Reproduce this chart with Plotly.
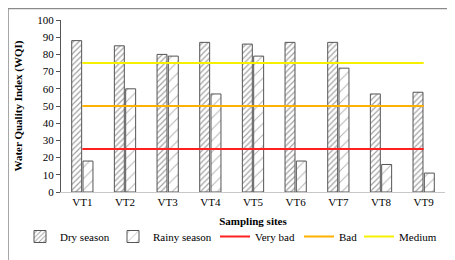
import plotly.graph_objects as go

sites = ["VT1", "VT2", "VT3", "VT4", "VT5", "VT6", "VT7", "VT8", "VT9"]
dry_season = [88, 85, 80, 87, 86, 87, 87, 57, 58]
rainy_season = [18, 60, 79, 57, 79, 18, 72, 16, 11]
very_bad = [25] * 9
bad = [50] * 9
medium = [75] * 9
y_ticks = [0, 10, 20, 30, 40, 50, 60, 70, 80, 90, 100]

FONT = "Liberation Serif"

# page body has an 8px margin: work in figure coordinates
W, H = 447, 252
L, R, T, B = 53, 10, 12, 68
pw, ph = W - L - R, H - T - B

def px_x(x):
    return (x - L) / pw

def px_y(y):
    return (H - B - y) / ph

fig = go.Figure()
fig.add_trace(go.Scatter(x=sites, y=very_bad, name="Very bad", mode="lines", legend="legend3",
                         line=dict(color="#FF2020", width=2)))
fig.add_trace(go.Scatter(x=sites, y=bad, name="Bad", mode="lines", legend="legend4",
                         line=dict(color="#FFB000", width=2)))
fig.add_trace(go.Scatter(x=sites, y=medium, name="Medium", mode="lines", legend="legend5",
                         line=dict(color="#F5F000", width=2)))
fig.add_trace(go.Bar(
    x=sites, y=dry_season, name="Dry season", legend="legend",
    marker=dict(color="white", line=dict(color="#555555", width=1),
                pattern=dict(shape="/", fgcolor="#444444", bgcolor="white", size=4, solidity=0.3)),
))
fig.add_trace(go.Bar(
    x=sites, y=rainy_season, name="Rainy season", legend="legend2",
    marker=dict(color="white", line=dict(color="#555555", width=1),
                pattern=dict(shape="/", fgcolor="#666666", bgcolor="white", size=8, solidity=0.12)),
))

fig.add_shape(type="rect", xref="paper", yref="paper",
              x0=px_x(0), x1=px_x(470), y0=px_y(0.5), y1=px_y(275),
              line=dict(color="#8a8a8a", width=1.5), fillcolor="rgba(0,0,0,0)", layer="below")

def leg(text_x):
    return dict(orientation="h", x=px_x(text_x - 40), xanchor="left", y=px_y(228.5), yanchor="middle",
                font=dict(family=FONT, size=11, color="black"),
                bgcolor="rgba(0,0,0,0)", itemwidth=30)

fig.update_layout(
    width=W, height=H,
    margin=dict(l=L, r=R, t=T, b=B, autoexpand=False),
    paper_bgcolor="white", plot_bgcolor="white",
    font=dict(family=FONT, size=11, color="black"),
    barmode="group", bargap=0.47, bargroupgap=0.12,
    showlegend=True,
    legend=leg(52), legend2=leg(145), legend3=leg(247), legend4=leg(331), legend5=leg(391),
    xaxis=dict(
        showline=True, linecolor="#c8c8c8", linewidth=1, ticks="",
        tickfont=dict(family=FONT, size=11), showgrid=False,
        title=dict(text="<b>Sampling sites</b>", font=dict(family=FONT, size=11), standoff=10),
    ),
    yaxis=dict(
        range=[0, 100], tickvals=y_ticks, showline=True, linecolor="#555555", linewidth=1,
        ticks="outside", ticklen=4, tickcolor="#555555", showgrid=False, zeroline=False,
        tickfont=dict(family=FONT, size=11),
        title=dict(text="<b>Water Quality Index (WQI)</b>", font=dict(family=FONT, size=11), standoff=12),
    ),
)

fig.write_html("out.html")
